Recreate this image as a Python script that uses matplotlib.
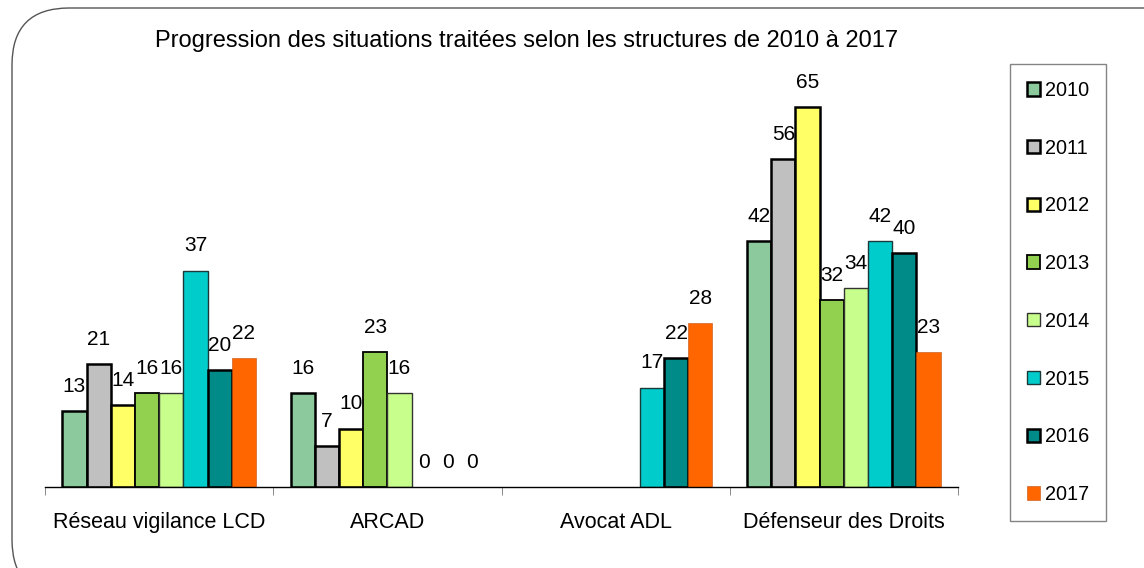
import numpy as np
import matplotlib
matplotlib.use("Agg")
import matplotlib.pyplot as plt
from matplotlib.patches import FancyBboxPatch

plt.rcParams['font.family'] = ['Liberation Sans', 'DejaVu Sans']

structures = ["Réseau vigilance LCD", "ARCAD", "Avocat ADL", "Défenseur des Droits"]
annees = ["2010", "2011", "2012", "2013", "2014", "2015", "2016", "2017"]

# valeurs par année (une liste par structure, dans l'ordre ci-dessus)
v2010 = [13, 16, np.nan, 42]
v2011 = [21, 7, np.nan, 56]
v2012 = [14, 10, np.nan, 65]
v2013 = [16, 23, np.nan, 32]
v2014 = [16, 16, np.nan, 34]
v2015 = [37, 0, 17, 42]
v2016 = [20, 0, 22, 40]
v2017 = [22, 0, 28, 23]
series = [v2010, v2011, v2012, v2013, v2014, v2015, v2016, v2017]

couleurs = ["#8CC99C", "#C0C0C0", "#FFFF66", "#92D050", "#C8FF8C", "#00CCCC", "#008A88", "#FF6600"]
bords = ["black", "black", "black", "black", "#333333", "#1a3a3a", "black", "#C05010"]
epaisseurs = [1.8, 1.8, 1.8, 1.3, 1.0, 1.0, 1.8, 0.4]

fig = plt.figure(figsize=(11.44, 5.68), dpi=100)
ax = fig.add_axes([45 / 1144, 81 / 568, 913 / 1144, 427 / 568])

# cadre arrondi autour du graphique
cadre = FancyBboxPatch((12 / 1144, -0.05), 1.1, 1.05 - 8 / 568,
                       boxstyle="round,pad=0,rounding_size=0.05",
                       transform=fig.transFigure, fill=False,
                       edgecolor="#555555", linewidth=1.0, mutation_aspect=2.0)
fig.patches.append(cadre)

x = np.arange(len(structures))
largeur = 0.106
decalages = (np.arange(8) - 3.5) * largeur

for i, vals in enumerate(series):
    vals = np.array(vals, dtype=float)
    hauteurs = np.where(vals > 0, vals, np.nan)  # pas de trait pour les barres nulles
    ax.bar(x + decalages[i], hauteurs, largeur,
           color=couleurs[i], edgecolor=bords[i], linewidth=epaisseurs[i],
           label=annees[i])
    for xb, v in zip(x + decalages[i], vals):
        if np.isnan(v):
            continue
        ax.annotate(str(int(v)), (xb, v), xytext=(0, 11), textcoords="offset points",
                    ha="center", va="bottom", fontsize=15)

ax.set_xlim(-0.5, 3.5)
ax.set_ylim(0, 73)
ax.set_yticks([])
for s in ["left", "right", "top"]:
    ax.spines[s].set_visible(False)
ax.spines["bottom"].set_linewidth(1.0)

ax.set_xticks(x)
ax.set_xticklabels(structures, fontsize=15.5)
ax.tick_params(axis="x", which="major", length=0, pad=18)
ax.set_xticks(np.arange(-0.5, 4.0, 1.0), minor=True)
ax.tick_params(axis="x", which="minor", length=6, color="#777777", direction="out")

fig.text(527 / 1144, 1 - 41 / 568, "Progression des situations traitées selon les structures de 2010 à 2017",
         ha="center", va="center", fontsize=17)

leg = fig.legend(loc="upper left", bbox_to_anchor=(1010 / 1144, 1 - 64 / 568),
                 frameon=True, fontsize=14.3, labelspacing=1.95, handlelength=0.65,
                 handleheight=0.65, handletextpad=0.25, borderpad=0.85,
                 fancybox=False, borderaxespad=0)
leg.get_frame().set_edgecolor("#666666")
leg.get_frame().set_linewidth(1.0)

plt.savefig("out.png", dpi=100)
